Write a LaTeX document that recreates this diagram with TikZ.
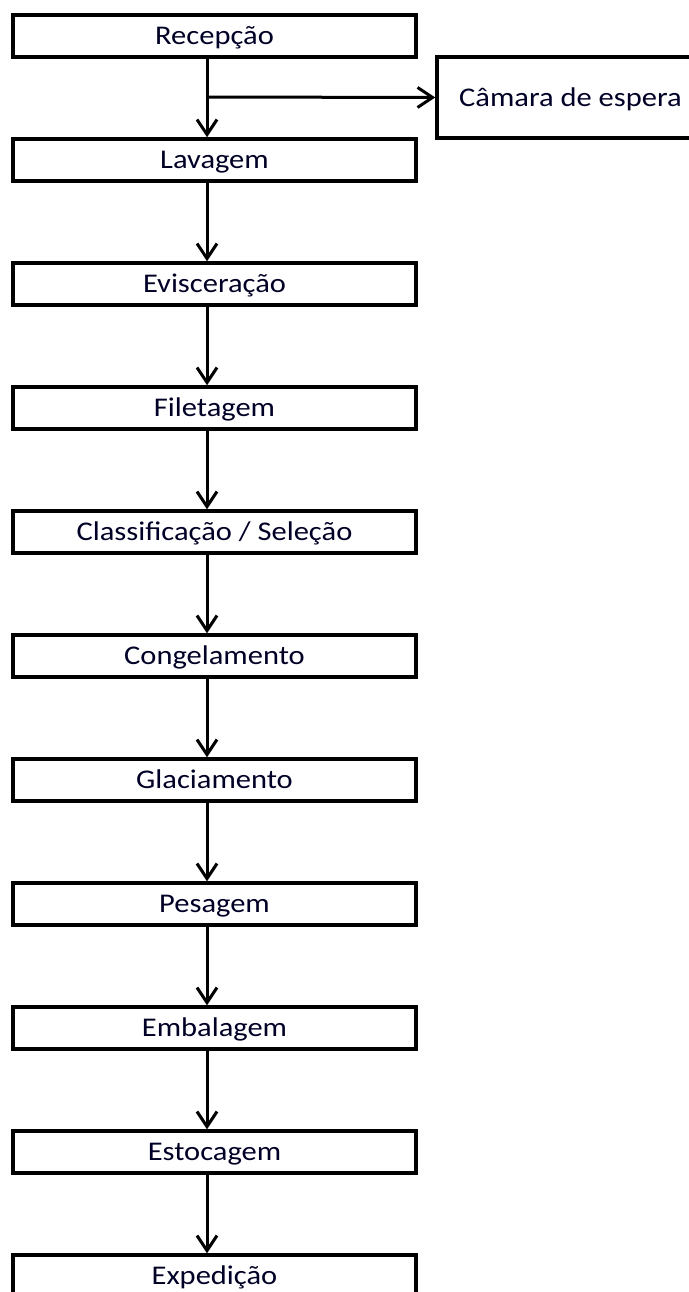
\documentclass[tikz,border=0pt]{standalone}
\usepackage{fontspec}
\setmainfont[FakeStretch=1.13]{Carlito}
\usetikzlibrary{arrows.meta}
\begin{document}
\begin{tikzpicture}[x=1pt,y=-1pt,
  txt/.style={font=\fontsize{27}{32}\selectfont, text=black!85!blue},
  stepbox/.style={draw=black, line width=3.5pt, minimum width=403pt, minimum height=42pt, inner sep=0pt, txt, text height=17pt, text depth=0pt},
  sidebox/.style={draw=black, line width=3.5pt, minimum width=263pt, minimum height=81pt, inner sep=0pt},
  arr/.style={line width=3pt, -{Straight Barb[length=15pt,width=20pt,line width=3pt]}}]
\useasboundingbox (0,0) rectangle (688,1292);
\fill[white] (0,0) rectangle (688,1292);
\foreach \t/\n [count=\i from 0] in {{Recepção}/r1,{Lavagem}/r2,{Evisceração}/r3,{Filetagem}/r4,{Classificação / Seleção}/r5,{Congelamento}/r6,{Glaciamento}/r7,{Pesagem}/r8,{Embalagem}/r9,{Estocagem}/r10,{Expedição}/r11}{
  \node[stepbox] (\n) at (214.5,{36+124*\i}) {\t};
}
\node[sidebox] (cam) at (568.5,97.5) {};
\node[anchor=base west, txt, inner sep=0pt] (camt) at (459,107) {Câmara de espera};
\coordinate (s) at (207,0);
\coordinate (j) at (207,97);
\foreach \a/\b in {r1/r2,r2/r3,r3/r4,r4/r5,r5/r6,r6/r7,r7/r8,r8/r9,r9/r10,r10/r11}{
  \draw[arr] (\a.south -| s) -- (\b.north -| s);
}
\draw[arr] (j) -- (cam.west);
\end{tikzpicture}
\end{document}
